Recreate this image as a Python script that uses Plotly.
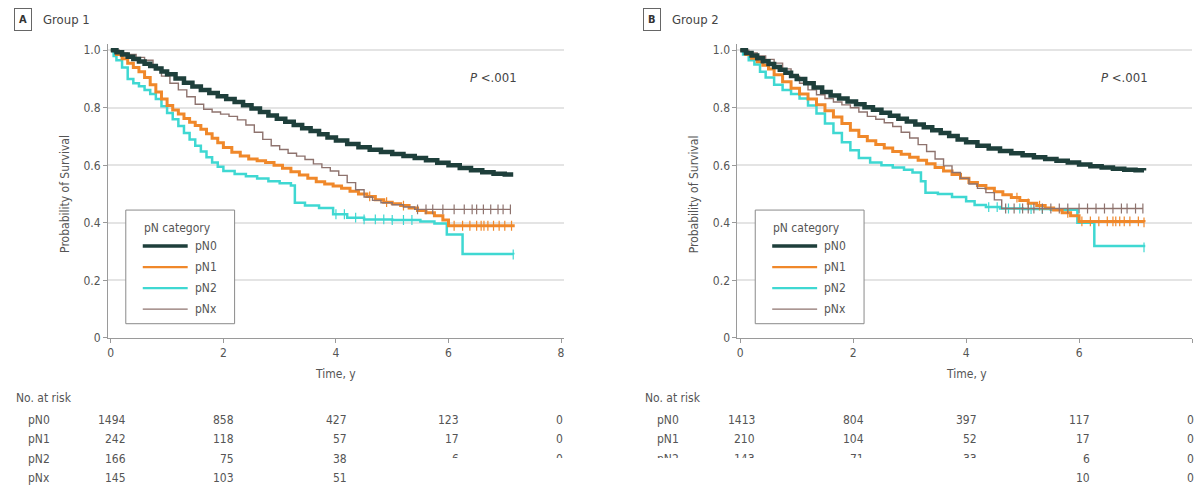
import plotly.graph_objects as go

W, H = 1194, 496
FONT = "DejaVu Sans Condensed, Liberation Sans Narrow, Open Sans, sans-serif"
TXT = "#555555"
AXC = "#9a9a9a"

# ---------------- data ----------------
categories = ["pN0", "pN1", "pN2", "pNx"]
time_ticks = [0, 2, 4, 6, 8]
surv_ticks = [0, 0.2, 0.4, 0.6, 0.8, 1.0]
surv_tick_text = ["0", "0.2", "0.4", "0.6", "0.8", "1.0"]

# Group 1 Kaplan-Meier estimates (time in years, survival probability)
g1_pn0_t = [0, 0.1, 0.2, 0.3, 0.4, 0.5, 0.6, 0.7, 0.8, 0.9, 1.0, 1.15, 1.3, 1.45, 1.6, 1.75, 1.9, 2.05, 2.2, 2.35,
            2.5, 2.65, 2.8, 2.95, 3.1, 3.25, 3.4, 3.55, 3.7, 3.85, 4.0, 4.2, 4.4, 4.6, 4.8, 5.0, 5.2, 5.4, 5.6,
            5.8, 6.0, 6.2, 6.4, 6.6, 6.8, 7.0, 7.15]
g1_pn0_s = [1.0, 0.993, 0.985, 0.977, 0.969, 0.961, 0.953, 0.945, 0.936, 0.926, 0.916, 0.902, 0.887, 0.874, 0.862,
            0.851, 0.84, 0.83, 0.82, 0.809, 0.797, 0.785, 0.773, 0.762, 0.751, 0.74, 0.729, 0.719, 0.708, 0.697,
            0.686, 0.674, 0.663, 0.654, 0.646, 0.639, 0.632, 0.625, 0.618, 0.609, 0.6, 0.591, 0.583, 0.576,
            0.571, 0.568, 0.568]
g1_pn1_t = [0, 0.1, 0.2, 0.3, 0.4, 0.5, 0.6, 0.7, 0.8, 0.9, 1.0, 1.1, 1.2, 1.3, 1.4, 1.5, 1.6, 1.7, 1.8, 1.9, 2.0,
            2.15, 2.3, 2.45, 2.6, 2.75, 2.9, 3.05, 3.2, 3.35, 3.5, 3.65, 3.8, 3.95, 4.1, 4.25, 4.4, 4.55, 4.7,
            4.85, 5.0, 5.15, 5.3, 5.45, 5.6, 5.75, 5.9, 6.0, 7.15]
g1_pn1_s = [1.0, 0.985, 0.97, 0.955, 0.94, 0.925, 0.905, 0.88, 0.855, 0.83, 0.808, 0.792, 0.778, 0.763, 0.75,
            0.738, 0.725, 0.71, 0.694, 0.678, 0.662, 0.645, 0.632, 0.622, 0.616, 0.61, 0.6, 0.59, 0.578, 0.566,
            0.555, 0.543, 0.535, 0.528, 0.52, 0.51, 0.5, 0.492, 0.48, 0.472, 0.466, 0.46, 0.452, 0.443, 0.435,
            0.425, 0.41, 0.39, 0.385]
g1_pn2_t = [0, 0.05, 0.1, 0.2, 0.3, 0.4, 0.5, 0.6, 0.7, 0.8, 0.9, 1.0, 1.1, 1.2, 1.3, 1.4, 1.5, 1.6, 1.7, 1.8,
            1.9, 2.0, 2.2, 2.4, 2.6, 2.8, 3.0, 3.2, 3.27, 3.45, 3.7, 3.95, 4.2, 4.5, 5.0, 5.5, 5.75, 5.97, 6.25,
            7.15]
g1_pn2_s = [1.0, 0.98, 0.965, 0.94, 0.9, 0.885, 0.875, 0.862, 0.848, 0.83, 0.805, 0.782, 0.76, 0.737, 0.712,
            0.69, 0.668, 0.648, 0.628, 0.61, 0.595, 0.58, 0.57, 0.562, 0.554, 0.545, 0.538, 0.53, 0.47, 0.46,
            0.452, 0.43, 0.418, 0.412, 0.41, 0.405, 0.398, 0.36, 0.292, 0.29]
g1_pnx_t = [0, 0.15, 0.3, 0.45, 0.6, 0.75, 0.9, 1.05, 1.2, 1.35, 1.5, 1.65, 1.8, 1.95, 2.1, 2.25, 2.4, 2.55, 2.7,
            2.85, 3.0, 3.15, 3.3, 3.45, 3.6, 3.75, 3.9, 4.05, 4.2, 4.35, 4.5, 4.65, 4.8, 5.0, 5.2, 5.4, 7.1]
g1_pnx_s = [1.0, 0.99, 0.985, 0.975, 0.965, 0.94, 0.91, 0.885, 0.862, 0.838, 0.812, 0.795, 0.785, 0.778, 0.77,
            0.758, 0.74, 0.715, 0.69, 0.668, 0.655, 0.642, 0.632, 0.62, 0.605, 0.592, 0.58, 0.565, 0.54, 0.515,
            0.49, 0.478, 0.47, 0.463, 0.455, 0.447, 0.447]
g1_cens_pn1 = [4.6, 4.9, 5.2, 6.1, 6.25, 6.38, 6.5, 6.58, 6.63, 6.7, 6.8, 6.9, 7.0, 7.12]
g1_cens_pn2 = [4.0, 4.15, 4.35, 4.5, 4.7, 4.85, 5.0, 5.2, 5.35, 7.15]
g1_cens_pnx = [5.45, 5.6, 5.72, 5.9, 6.1, 6.28, 6.42, 6.5, 6.62, 6.75, 6.88, 6.97, 7.1]

# Group 2 Kaplan-Meier estimates
g2_pn0_t = [0, 0.1, 0.2, 0.3, 0.4, 0.5, 0.6, 0.7, 0.8, 0.9, 1.0, 1.15, 1.3, 1.45, 1.6, 1.75, 1.9, 2.05, 2.2, 2.35,
            2.5, 2.65, 2.8, 2.95, 3.1, 3.25, 3.4, 3.55, 3.7, 3.85, 4.0, 4.2, 4.4, 4.6, 4.8, 5.0, 5.2, 5.4, 5.6,
            5.8, 6.0, 6.2, 6.4, 6.6, 6.8, 7.0, 7.15]
g2_pn0_s = [1.0, 0.99, 0.982, 0.972, 0.962, 0.952, 0.942, 0.932, 0.922, 0.91, 0.9, 0.885, 0.87, 0.855, 0.843,
            0.832, 0.822, 0.812, 0.802, 0.793, 0.783, 0.772, 0.762, 0.752, 0.742, 0.732, 0.722, 0.712, 0.702,
            0.69, 0.68, 0.668, 0.658, 0.65, 0.642, 0.635, 0.628, 0.622, 0.616, 0.61, 0.603, 0.597, 0.592, 0.588,
            0.585, 0.583, 0.582]
g2_pn1_t = [0, 0.1, 0.2, 0.3, 0.4, 0.5, 0.6, 0.75, 0.9, 1.05, 1.2, 1.35, 1.5, 1.65, 1.8, 1.95, 2.1, 2.25, 2.4,
            2.55, 2.7, 2.85, 3.0, 3.15, 3.3, 3.45, 3.6, 3.75, 3.9, 4.05, 4.2, 4.35, 4.5, 4.65, 4.8, 4.95, 5.1,
            5.25, 5.4, 5.55, 5.7, 5.85, 6.0, 7.15]
g2_pn1_s = [1.0, 0.985, 0.972, 0.96, 0.948, 0.935, 0.915, 0.89, 0.868, 0.848, 0.83, 0.81, 0.79, 0.768, 0.745,
            0.722, 0.7, 0.685, 0.672, 0.66, 0.648, 0.638, 0.628, 0.618, 0.605, 0.592, 0.58, 0.568, 0.555, 0.54,
            0.53, 0.52, 0.508, 0.498, 0.488, 0.478, 0.468, 0.46, 0.452, 0.445, 0.435, 0.425, 0.405, 0.402]
g2_pn2_t = [0, 0.05, 0.15, 0.25, 0.35, 0.45, 0.6, 0.75, 0.9, 1.05, 1.2, 1.35, 1.5, 1.65, 1.8, 1.95, 2.1, 2.3, 2.5,
            2.7, 2.9, 3.05, 3.2, 3.28, 3.5, 3.75, 4.0, 4.15, 4.35, 4.6, 5.0, 5.5, 5.97, 6.27, 7.15]
g2_pn2_s = [1.0, 0.985, 0.965, 0.95, 0.925, 0.905, 0.88, 0.862, 0.848, 0.832, 0.808, 0.78, 0.745, 0.712, 0.68,
            0.652, 0.625, 0.61, 0.6, 0.592, 0.585, 0.575, 0.545, 0.505, 0.5, 0.49, 0.475, 0.462, 0.455, 0.45,
            0.448, 0.446, 0.4, 0.32, 0.315]
g2_pnx_t = [0, 0.15, 0.3, 0.45, 0.6, 0.75, 0.9, 1.05, 1.2, 1.35, 1.5, 1.65, 1.8, 1.95, 2.1, 2.25, 2.4, 2.55, 2.7,
            2.85, 3.0, 3.15, 3.3, 3.45, 3.6, 3.75, 3.9, 4.05, 4.2, 4.35, 4.5, 4.63, 7.13]
g2_pnx_s = [1.0, 0.99, 0.98, 0.968, 0.955, 0.935, 0.91, 0.885, 0.862, 0.845, 0.832, 0.82, 0.81, 0.8, 0.785, 0.77,
            0.76, 0.748, 0.735, 0.715, 0.695, 0.672, 0.648, 0.622, 0.598, 0.575, 0.555, 0.535, 0.52, 0.505, 0.48,
            0.45, 0.45]
g2_cens_pn1 = [4.9, 5.1, 5.3, 5.8, 6.05, 6.2, 6.35, 6.5, 6.6, 6.65, 6.72, 6.8, 6.9, 7.05, 7.15]
g2_cens_pn2 = [4.4, 4.55, 4.75, 4.95, 5.15, 5.35, 7.15]
g2_cens_pnx = [4.7, 4.85, 5.0, 5.1, 5.2, 5.35, 5.5, 5.65, 5.8, 6.0, 6.15, 6.3, 6.45, 6.6, 6.75, 6.85, 7.0, 7.13]

# Numbers at risk at 0, 2, 4, 6, 8 years (None = not shown)
g1_risk_pn0 = [1494, 858, 427, 123, 0]
g1_risk_pn1 = [242, 118, 57, 17, 0]
g1_risk_pn2 = [166, 75, 38, 6, 0]
g1_risk_pnx = [145, 103, 51, None, None]
g2_risk_pn0 = [1413, 804, 397, 117, 0]
g2_risk_pn1 = [210, 104, 52, 17, 0]
g2_risk_pn2 = [143, 71, 33, 6, 0]
g2_risk_pnx = [None, None, None, 10, 0]

p_value_text = "<i>P</i> <.001"

# ---------------- styling ----------------
colors = {"pN0": "#1e3f3b", "pN1": "#f0882a", "pN2": "#3fd8d2", "pNx": "#8e736e"}
widths = {"pN0": 4.5, "pN1": 3.0, "pN2": 2.5, "pNx": 1.4}
legend_widths = {"pN0": 3.5, "pN1": 2.2, "pN2": 2.2, "pNx": 1.4}
draw_order = ["pN2", "pN1", "pNx", "pN0"]


def pxx(p):
    return p / W


def pxy(p):
    return 1 - p / H


def surv_at(ts, ss, t):
    val = ss[0]
    for ti, si in zip(ts, ss):
        if ti <= t:
            val = si
    return val


panels = [
    {
        "name": "A", "title": "Group 1", "xa": "x", "ya": "y",
        "x0": 110.0, "x8": 561.0, "xmax": 8.05,
        "curves": {"pN0": (g1_pn0_t, g1_pn0_s), "pN1": (g1_pn1_t, g1_pn1_s),
                   "pN2": (g1_pn2_t, g1_pn2_s), "pNx": (g1_pnx_t, g1_pnx_s)},
        "cens": {"pN1": g1_cens_pn1, "pN2": g1_cens_pn2, "pNx": g1_cens_pnx},
        "risk": {"pN0": g1_risk_pn0, "pN1": g1_risk_pn1, "pN2": g1_risk_pn2, "pNx": g1_risk_pnx},
        "show_label": {"pN0": True, "pN1": True, "pN2": True, "pNx": True},
    },
    {
        "name": "B", "title": "Group 2", "xa": "x2", "ya": "y2",
        "x0": 740.5, "x8": 1193.0, "xmax": 8.0,
        "curves": {"pN0": (g2_pn0_t, g2_pn0_s), "pN1": (g2_pn1_t, g2_pn1_s),
                   "pN2": (g2_pn2_t, g2_pn2_s), "pNx": (g2_pnx_t, g2_pnx_s)},
        "cens": {"pN1": g2_cens_pn1, "pN2": g2_cens_pn2, "pNx": g2_cens_pnx},
        "risk": {"pN0": g2_risk_pn0, "pN1": g2_risk_pn1, "pN2": g2_risk_pn2, "pNx": g2_risk_pnx},
        "show_label": {"pN0": True, "pN1": True, "pN2": True, "pNx": False},
    },
]

Y0_PX, Y1_PX = 342.5, 50.0          # pixel rows of survival 0 and 1
YMAX = 1.02
y_unit = Y0_PX - Y1_PX
y_domain = [pxy(Y0_PX), pxy(Y1_PX - (YMAX - 1) * y_unit)]

fig = go.Figure()
annotations = []
shapes = []
layout_axes = {}

for i, p in enumerate(panels):
    xa, ya = p["xa"], p["ya"]
    unit = (p["x8"] - p["x0"]) / 8.0
    xmin = -0.05
    x_domain = [pxx(p["x0"] + xmin * unit), pxx(p["x0"] + p["xmax"] * unit)]
    suffix = "" if i == 0 else "2"

    layout_axes["xaxis" + suffix] = dict(
        domain=x_domain, range=[xmin, p["xmax"]], anchor=ya,
        tickvals=time_ticks, ticktext=[str(t) for t in time_ticks],
        showgrid=False, zeroline=False, showline=True, linecolor=AXC, linewidth=1,
        ticks="outside", ticklen=4, tickcolor=AXC, tickfont=dict(family=FONT, size=12, color=TXT),
    )
    layout_axes["yaxis" + suffix] = dict(
        domain=y_domain, range=[0, YMAX], anchor=xa,
        tickvals=surv_ticks, ticktext=surv_tick_text,
        showgrid=True, gridcolor="#e4e4e4", gridwidth=1.5, zeroline=False,
        showline=True, linecolor=AXC, linewidth=1,
        ticks="outside", ticklen=4, tickcolor=AXC, tickfont=dict(family=FONT, size=12, color=TXT),
    )

    # survival curves with censoring ticks
    for cat in draw_order:
        ts, ss = p["curves"][cat]
        fig.add_trace(go.Scatter(
            x=ts, y=ss, mode="lines", name=cat, showlegend=False,
            line=dict(color=colors[cat], width=widths[cat], shape="hv"),
            xaxis=xa, yaxis=ya,
        ))
        if cat in p["cens"]:
            ct = p["cens"][cat]
            fig.add_trace(go.Scatter(
                x=ct, y=[surv_at(ts, ss, t) for t in ct], mode="markers", showlegend=False,
                marker=dict(symbol="line-ns-open", size=7, color=colors[cat],
                            line=dict(color=colors[cat], width=1.2)),
                xaxis=xa, yaxis=ya,
            ))

    # panel heading
    annotations.append(dict(
        text="<b>" + p["name"] + "</b>", xref="paper", yref="paper",
        x=pxx(p["x0"] - 97), y=pxy(19), xanchor="left", yanchor="middle", showarrow=False,
        font=dict(family=FONT, size=11, color="#333333"),
        bordercolor="#666666", borderwidth=1, borderpad=4,
    ))
    annotations.append(dict(
        text=p["title"], xref="paper", yref="paper",
        x=pxx(p["x0"] - 70), y=pxy(19), xanchor="left", yanchor="middle", showarrow=False,
        font=dict(family=FONT, size=13, color="#444444"),
    ))

    # P value
    annotations.append(dict(
        text=p_value_text, xref=xa, yref=ya, x=6.8, y=0.905, xanchor="center", yanchor="middle",
        showarrow=False, font=dict(family=FONT, size=13, color="#444444"),
    ))

    # axis titles
    annotations.append(dict(
        text="Probability of Survival", xref=xa, yref=ya, x=0, y=0.5, xshift=-46,
        textangle=-90, xanchor="center", yanchor="middle", showarrow=False,
        font=dict(family=FONT, size=12, color=TXT),
    ))
    annotations.append(dict(
        text="Time, y", xref=xa, yref="paper", x=4, y=pxy(379), xanchor="center", yanchor="middle",
        showarrow=False, font=dict(family=FONT, size=12, color=TXT),
    ))

    # legend box
    L = p["x0"] + 15
    shapes.append(dict(type="rect", xref="paper", yref="paper",
                       x0=pxx(L), x1=pxx(L + 109), y0=pxy(328), y1=pxy(212.5),
                       line=dict(color="#8a8a8a", width=1), fillcolor="white", layer="above"))
    annotations.append(dict(
        text="pN category", xref="paper", yref="paper", x=pxx(L + 16), y=pxy(231),
        xanchor="left", yanchor="middle", showarrow=False, font=dict(family=FONT, size=12, color=TXT),
    ))
    for k, cat in enumerate(categories):
        yy = 249 + k * 21.4
        shapes.append(dict(type="line", xref="paper", yref="paper",
                           x0=pxx(L + 17), x1=pxx(L + 62), y0=pxy(yy), y1=pxy(yy),
                           line=dict(color=colors[cat], width=legend_widths[cat]), layer="above"))
        annotations.append(dict(
            text=cat, xref="paper", yref="paper", x=pxx(L + 67), y=pxy(yy),
            xanchor="left", yanchor="middle", showarrow=False, font=dict(family=FONT, size=12, color=TXT),
        ))

    # number-at-risk table
    annotations.append(dict(
        text="No. at risk", xref=xa, yref="paper", x=0, xshift=-97, y=pxy(403),
        xanchor="left", yanchor="middle", showarrow=False, font=dict(family=FONT, size=12, color=TXT),
    ))
    row_y = [426, 445.5, 465, 484.5]
    col_width = []
    for j in range(len(time_ticks)):
        vals = [p["risk"][c][j] for c in categories if p["risk"][c][j] is not None]
        col_width.append(max(len(str(v)) for v in vals))
    for r, cat in enumerate(categories):
        if p["show_label"][cat]:
            annotations.append(dict(
                text=cat, xref=xa, yref="paper", x=0, xshift=-85, y=pxy(row_y[r]),
                xanchor="left", yanchor="middle", showarrow=False, font=dict(family=FONT, size=12, color=TXT),
            ))
        for j, t in enumerate(time_ticks):
            v = p["risk"][cat][j]
            if v is None:
                continue
            annotations.append(dict(
                text=str(v), xref=xa, yref="paper", x=t, xshift=col_width[j] * 4.2, y=pxy(row_y[r]),
                xanchor="right", yanchor="middle", showarrow=False, font=dict(family=FONT, size=12, color=TXT),
            ))

# blank band over the lower table rows
annotations.append(dict(
    text=" ", xref="paper", yref="paper", x=pxx(348), y=pxy(464), xanchor="left", yanchor="top",
    width=719, height=34, bgcolor="white", showarrow=False, borderpad=0, borderwidth=0,
))

fig.update_layout(
    width=W, height=H, margin=dict(l=0, r=0, t=0, b=0),
    paper_bgcolor="white", plot_bgcolor="white", showlegend=False,
    annotations=annotations, shapes=shapes, **layout_axes,
)

fig.write_html("out.html")
